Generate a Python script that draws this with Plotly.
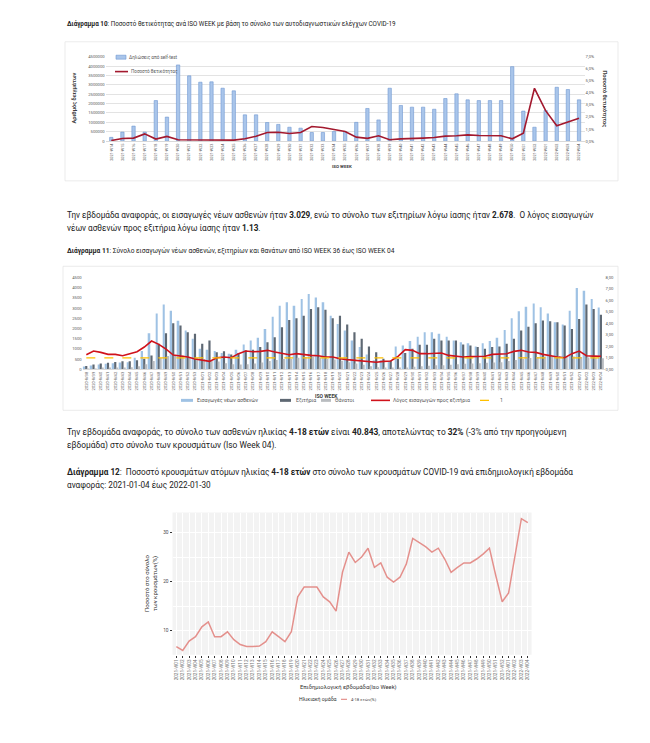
import plotly.graph_objects as go

W, H = 650, 743


def fx(p):
    return p / W


def fy(p):
    return 1 - p / H


FONT = "Roboto"
TXT = "#222222"
AX = "#595959"

# ---------------- Chart 10 data ----------------
weeks10 = [f"2021-W{w:02d}" for w in range(14, 53)] + [f"2022-W{w:02d}" for w in range(1, 5)]
selftests = [200000, 480000, 800000, 480000, 2160000, 1280000, 4060000, 3480000, 3140000, 3160000,
             2820000, 2680000, 1400000, 1400000, 990000, 890000, 740000, 690000, 460000, 460000,
             510000, 500000, 1000000, 1740000, 1130000, 2820000, 1900000, 1810000, 1810000, 1700000,
             2270000, 2520000, 2200000, 2160000, 2160000, 2160000, 3970000, 1600000, 740000, 1630000,
             2870000, 2750000, 2200000]
positivity = [0.05, 0.22, 0.25, 0.60, 0.17, 0.39, 0.11, 0.11, 0.08, 0.06,
              0.06, 0.08, 0.19, 0.41, 0.72, 0.74, 0.63, 0.72, 1.21, 1.13,
              0.96, 0.80, 0.33, 0.23, 0.44, 0.11, 0.19, 0.19, 0.25, 0.30,
              0.41, 0.44, 0.52, 0.47, 0.44, 0.44, 0.19, 0.66, 4.38, 2.53,
              1.27, 1.57, 1.90]
pct_ticks10 = [0, 1, 2, 3, 4, 5, 6, 7]
pct_text10 = ["0,0%", "1,0%", "2,0%", "3,0%", "4,0%", "5,0%", "6,0%", "7,0%"]

# ---------------- Chart 11 data ----------------
weeks11 = ([f"2020-W{w:02d}" for w in range(38, 54)] + [f"2021-W{w:02d}" for w in range(1, 53)]
           + [f"2022-W{w:02d}" for w in range(1, 5)])
admissions = [130, 180, 230, 270, 300, 330, 350, 570, 890, 1770,
              2740, 3170, 2870, 2380, 1900, 1500, 1000, 960, 890, 800,
              760, 960, 1220, 1410, 1540, 1980, 2580, 3120, 3280, 3120,
              3440, 3690, 3520, 3280, 2630, 2220, 1900, 1410, 1090, 730,
              440, 440, 400, 1120, 1170, 1380, 1600, 1820, 1820, 1740,
              1600, 1410, 1330, 1280, 1120, 1280, 1380, 1540, 1930, 2500,
              2840, 3070, 3230, 3040, 2740, 2300, 2190, 2870, 3980, 3850,
              3440, 3029]
discharges = [160, 230, 280, 320, 360, 390, 390, 440, 520, 680,
              1250, 1770, 2260, 2140, 1820, 1740, 1250, 1410, 840, 880,
              730, 800, 930, 960, 1090, 1330, 1570, 2060, 2420, 2500,
              2630, 2950, 3040, 2920, 2500, 2630, 2190, 1820, 1500, 1120,
              840, 520, 420, 520, 800, 1010, 1200, 1200, 1500, 1410,
              1410, 1410, 1220, 1170, 1090, 1010, 1090, 1120, 1250, 1500,
              1900, 2090, 2260, 2390, 2360, 2300, 2140, 1980, 2460, 3170,
              2950, 2678]
deaths = [20, 30, 40, 50, 60, 80, 100, 150, 250, 400,
          550, 650, 700, 680, 600, 550, 500, 420, 380, 300,
          250, 230, 250, 280, 330, 400, 450, 500, 520, 560,
          600, 620, 580, 520, 480, 420, 350, 280, 220, 150,
          100, 60, 50, 60, 90, 120, 150, 170, 200, 200,
          220, 250, 270, 280, 300, 320, 330, 350, 400, 450,
          500, 550, 600, 620, 630, 650, 640, 620, 600, 580,
          560, 540]
ratio = [1.27, 1.59, 1.47, 1.30, 1.30, 1.18, 1.36, 1.53, 1.94, 2.46,
         2.17, 1.76, 1.24, 1.18, 1.07, 0.90, 0.78, 0.69, 1.01, 1.07,
         1.01, 1.36, 1.59, 1.53, 1.56, 1.65, 1.50, 1.36, 1.27, 1.36,
         1.27, 1.21, 1.18, 1.07, 1.07, 0.92, 0.84, 0.78, 0.78, 0.69,
         0.61, 0.69, 0.72, 1.13, 1.71, 1.65, 1.36, 1.36, 1.36, 1.42,
         1.21, 1.13, 1.07, 1.10, 1.10, 1.13, 1.30, 1.36, 1.36, 1.56,
         1.65, 1.50, 1.47, 1.30, 1.18, 1.07, 1.01, 1.36, 1.59, 1.18,
         1.15, 1.13]
ref_level = 1
ratio_ticks11 = [0, 1, 2, 3, 4, 5, 6, 7, 8]
ratio_text11 = ["0,00", "1,00", "2,00", "3,00", "4,00", "5,00", "6,00", "7,00", "8,00"]

# ---------------- Chart 12 data ----------------
weeks12 = [f"2021-W{w:02d}" for w in range(1, 53)] + [f"2022-W{w:02d}" for w in range(1, 5)]
share_4_18 = [6.8, 6.0, 7.9, 8.8, 10.8, 11.8, 8.8, 8.8, 9.8, 8.2,
              7.2, 6.8, 6.8, 6.9, 7.8, 9.8, 8.8, 7.8, 9.8, 16.9,
              18.9, 18.9, 18.9, 16.9, 15.9, 14.0, 21.9, 26.0, 23.9, 25.0,
              26.8, 22.9, 23.8, 20.9, 19.9, 20.9, 23.6, 28.8, 28.0, 27.1,
              26.0, 26.8, 24.6, 21.9, 22.9, 23.8, 23.8, 24.6, 25.6, 26.8,
              21.2, 15.9, 17.7, 24.9, 32.8, 32.0]

C_SELF, C_SELF_LINE, C_POS = "#a9c5ea", "#6f97d2", "#a3192e"
C_ADM, C_DIS, C_DEA, C_RAT, C_REF = "#9fc2e4", "#5e6873", "#b9bcc0", "#d0121b", "#ffc000"
C_SHARE = "#e4908c"

fig = go.Figure()

# Chart 10
fig.add_trace(go.Bar(x=weeks10, y=selftests, name="Δηλώσεις από self-test",
                     marker=dict(color=C_SELF, line=dict(color=C_SELF_LINE, width=0.6)),
                     width=0.3, xaxis="x", yaxis="y"))
fig.add_trace(go.Scatter(x=weeks10, y=positivity, name="Ποσοστό θετικότητας", mode="lines",
                         line=dict(color=C_POS, width=1.6), xaxis="x", yaxis="y2"))

# Chart 11
fig.add_trace(go.Bar(x=weeks11, y=admissions, name="Εισαγωγές νέων ασθενών",
                     marker=dict(color=C_ADM, line=dict(width=0)), width=0.22, offset=-0.40,
                     xaxis="x2", yaxis="y3"))
fig.add_trace(go.Bar(x=weeks11, y=discharges, name="Εξιτήρια",
                     marker=dict(color=C_DIS, line=dict(width=0)), width=0.3, offset=-0.16,
                     xaxis="x2", yaxis="y3"))
fig.add_trace(go.Bar(x=weeks11, y=deaths, name="Θάνατοι",
                     marker=dict(color=C_DEA, line=dict(width=0)), width=0.24, offset=0.16,
                     xaxis="x2", yaxis="y3"))
fig.add_trace(go.Scatter(x=weeks11, y=ratio, name="Λόγος εισαγωγών προς εξιτήρια", mode="lines",
                         line=dict(color=C_RAT, width=1.6), xaxis="x2", yaxis="y4"))
fig.add_trace(go.Scatter(x=weeks11, y=[ref_level] * len(weeks11), name="1", mode="lines",
                         line=dict(color=C_REF, width=1.3, dash="dash"), xaxis="x2", yaxis="y4"))

# Chart 12
fig.add_trace(go.Scatter(x=weeks12, y=share_4_18, name="4-18 ετών(%)", mode="lines",
                         line=dict(color=C_SHARE, width=1.5), xaxis="x3", yaxis="y5"))

tick_small = dict(family=FONT, size=4.2, color=AX)

fig.update_layout(
    width=W, height=H,
    margin=dict(l=0, r=0, t=0, b=0),
    paper_bgcolor="white", plot_bgcolor="rgba(0,0,0,0)",
    barmode="overlay", showlegend=False,
    font=dict(family=FONT, color=TXT),
    xaxis=dict(domain=[fx(97.7), fx(576.6)], anchor="y", type="category", range=[-0.5, 42.5],
               tickangle=-90, tickfont=dict(family=FONT, size=3.8, color=AX), showgrid=False,
               showline=True, linecolor="#d9d9d9", linewidth=0.8, ticks=""),
    yaxis=dict(domain=[fy(131), fy(46)], anchor="x", range=[0, 4500000], dtick=500000,
               tickformat="d", tickfont=tick_small, gridcolor="#e3e3e3", gridwidth=0.7,
               zeroline=False, showline=False),
    yaxis2=dict(overlaying="y", side="right", anchor="x", range=[0, 7], tickvals=pct_ticks10,
                ticktext=pct_text10, tickfont=tick_small, showgrid=False, zeroline=False),
    xaxis2=dict(domain=[fx(74.7), fx(596.6)], anchor="y3", type="category", range=[-0.5, 71.5],
                tickangle=-90, tickfont=dict(family=FONT, size=4.1, color=AX), showgrid=False,
                showline=True, linecolor="#d9d9d9", linewidth=0.8, ticks=""),
    yaxis3=dict(domain=[fy(360.7), fy(268.3)], anchor="x2", range=[0, 4500], dtick=500,
                tickfont=tick_small, showgrid=False, zeroline=False),
    yaxis4=dict(overlaying="y3", side="right", anchor="x2", range=[0, 8], tickvals=ratio_ticks11,
                ticktext=ratio_text11, tickfont=tick_small, showgrid=False, zeroline=False),
    xaxis3=dict(domain=[fx(164.5), fx(523.6)], anchor="y5", type="category", range=[-0.6, 55.6],
                tickangle=-90, tickfont=dict(family=FONT, size=4.6, color="#777777"),
                showgrid=True, gridcolor="white", gridwidth=0.8, ticks="outside", ticklen=2,
                tickcolor="#333333", tickwidth=0.6, showline=False),
    yaxis5=dict(domain=[fy(648), fy(505)], anchor="x3", range=[5.15, 34.04], tickvals=[10, 20, 30],
                tickfont=dict(family=FONT, size=4.8, color="#4d4d4d"), gridcolor="white",
                gridwidth=1, ticks="outside", ticklen=2, tickcolor="#333333", tickwidth=0.6,
                zeroline=False, showline=False,
                minor=dict(tickvals=[15, 25], showgrid=True, gridcolor="white", gridwidth=0.5, ticks="")),
)


def rect(x0, x1, y0, y1, fill, line_color=None, lw=0, layer="above"):
    return dict(type="rect", xref="paper", yref="paper", x0=fx(x0), x1=fx(x1), y0=fy(y1), y1=fy(y0),
                fillcolor=fill, line=dict(color=line_color or fill, width=lw), layer=layer)


def hline(x0, x1, y, color, width, dash="solid"):
    return dict(type="line", xref="paper", yref="paper", x0=fx(x0), x1=fx(x1), y0=fy(y), y1=fy(y),
                line=dict(color=color, width=width, dash=dash))


shapes = [
    # chart frames / panel
    rect(57, 610, 31, 171, "rgba(0,0,0,0)", "#e6e6e6", 0.8, "below"),
    rect(55, 610, 257, 402, "rgba(0,0,0,0)", "#e6e6e6", 0.8, "below"),
    rect(164.5, 523.6, 505, 648, "#f3f3f3", "#f3f3f3", 0, "below"),
    # legend chart 10
    rect(108, 118, 44.5, 48.5, C_SELF, C_SELF_LINE, 0.6),
    hline(107, 120, 61, C_POS, 1.6),
    # legend chart 11
    rect(173, 185, 390.5, 393.5, C_ADM),
    rect(272, 283, 390.5, 393.5, C_DIS),
    rect(313, 323, 390.5, 393.5, C_DEA),
    hline(363, 382, 392, C_RAT, 1.6),
    hline(472, 488, 392, C_REF, 1.3, "dash"),
    # legend chart 12
    hline(333, 339, 693, C_SHARE, 1.2),
]
fig.update_layout(shapes=shapes)


def ann(x, y, text, size, color=TXT, angle=0, xanchor="left", bold=False):
    if bold:
        text = f"<b>{text}</b>"
    return dict(x=fx(x), y=fy(y), xref="paper", yref="paper", text=text, showarrow=False,
                xanchor=xanchor, yanchor="middle", textangle=angle,
                font=dict(family=FONT, size=size, color=color))


annotations = [
    ann(57, 13, "<b>Διάγραμμα 10</b>: Ποσοστό θετικότητας ανά ISO WEEK με βάση το σύνολο των αυτοδιαγνωστικών ελέγχων COVID-19", 6.3),
    ann(66, 88, "Αριθμός δειγμάτων", 5.6, color="#404040", angle=-90, xanchor="center", bold=True),
    ann(597, 88, "Ποσοστό θετικότητας", 5.6, color="#404040", angle=90, xanchor="center", bold=True),
    ann(334, 157, "ISO WEEK", 4.4, color="#404040", xanchor="center", bold=True),
    ann(119, 46.5, "Δηλώσεις από self-test", 4.6, color=AX),
    ann(121, 61, "Ποσοστό θετικότητας", 4.6, color=AX),
    ann(57, 205, "Την εβδομάδα αναφοράς, οι εισαγωγές νέων ασθενών ήταν <b>3.029</b>, ενώ το σύνολο των εξιτηρίων λόγω ίασης ήταν <b>2.678</b>.  Ο λόγος εισαγωγών", 8.2),
    ann(57, 218, "νέων ασθενών προς εξιτήρια λόγω ίασης ήταν <b>1.13</b>.", 8.2),
    ann(57, 241, "<b>Διάγραμμα 11</b>: Σύνολο εισαγωγών νέων ασθενών, εξιτηρίων και θανάτων από ISO WEEK 36 έως ISO WEEK 04", 6.6),
    ann(187, 392, "Εισαγωγές νέων ασθενών", 5.2, color=AX),
    ann(286, 392, "Εξιτήρια", 5.2, color=AX),
    ann(325, 392, "Θάνατοι", 5.2, color=AX),
    ann(383, 392, "Λόγος εισαγωγών προς εξιτήρια", 5.2, color=AX),
    ann(490, 392, "1", 5.2, color=AX),
    ann(318, 388, "ISO WEEK", 5.0, color="#404040", xanchor="center", bold=True),
    ann(57, 424, "Την εβδομάδα αναφοράς, το σύνολο των ασθενών ηλικίας <b>4-18 ετών</b> είναι <b>40.843</b>, αποτελώντας το <b>32%</b> (-3% από την προηγούμενη", 8.4),
    ann(57, 437, "εβδομάδα) στο σύνολο των κρουσμάτων (Iso Week 04).", 8.4),
    ann(57, 464, "<b>Διάγραμμα 12</b>:  Ποσοστό κρουσμάτων ατόμων ηλικίας <b>4-18 ετών</b> στο σύνολο των κρουσμάτων COVID-19 ανά επιδημιολογική εβδομάδα", 8.2),
    ann(57, 477, "αναφοράς: 2021-01-04 έως 2022-01-30", 8.2),
    ann(143, 576, "Ποσοστό στο σύνολο<br>των κρουσμάτων(%)", 6.0, color="#333333", angle=-90, xanchor="center"),
    ann(340, 681, "Επιδημιολογική εβδομάδα(Iso Week)", 5.8, color="#333333", xanchor="center"),
    ann(331, 693, "Ηλικιακή ομάδα", 5.2, color="#333333", xanchor="right"),
    ann(341, 693, "4-18 ετών(%)", 4.2, color="#444444"),
]
fig.update_layout(annotations=annotations)

fig.write_html("out.html")
